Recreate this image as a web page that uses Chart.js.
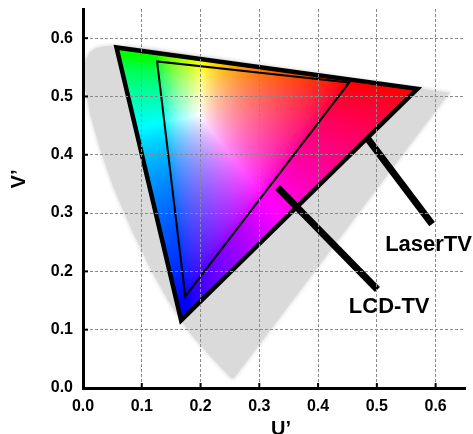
<!DOCTYPE html>
<html><head><meta charset="utf-8">
<script src="https://cdn.jsdelivr.net/npm/chart.js@4/dist/chart.umd.min.js"></script>
<style>html,body{margin:0;padding:0;background:#fff}</style>
</head><body>
<canvas id="c" width="473" height="434"></canvas>
<script>
// CIE 1976 spectral locus (u', v'), 380 nm -> 700 nm
const locusU = [0.2568,0.2522,0.2461,0.2347,0.2161,0.1877,0.1690,0.1441,0.1147,0.0828,0.0521,0.0282,0.0119,0.0035,0.0014,0.0046,0.0123,0.0231,0.0360,0.0501,0.0792,0.1127,0.1531,0.2026,0.2623,0.3315,0.4035,0.5203,0.5830,0.6234];
const locusV = [0.0165,0.0169,0.0226,0.0350,0.0549,0.0871,0.1119,0.1510,0.2044,0.2708,0.3427,0.4117,0.4698,0.5131,0.5432,0.5638,0.5770,0.5837,0.5861,0.5868,0.5856,0.5821,0.5766,0.5694,0.5604,0.5501,0.5393,0.5219,0.5125,0.5065];
// Primaries: green, red, blue
const laserU = [0.057, 0.569, 0.167];
const laserV = [0.584, 0.513, 0.116];
const lcdU = [0.126, 0.453, 0.174];
const lcdV = [0.560, 0.524, 0.157];
// Pointer lines
const laserPointerU = [0.484, 0.594];
const laserPointerV = [0.428, 0.281];
const lcdPointerU = [0.331, 0.501];
const lcdPointerV = [0.344, 0.169];
// Labels
const labelText = ['LaserTV', 'LCD-TV'];
const labelU = [0.588, 0.521];
const labelV = [0.246, 0.139];
const tickValues = [0.0, 0.1, 0.2, 0.3, 0.4, 0.5, 0.6];
const xTitle = 'U\u2019';
const yTitle = 'V\u2019';

const toPts = (us, vs) => us.map((u, i) => ({x: u, y: vs[i]}));
const closedPts = (us, vs) => { const p = toPts(us, vs); return p.concat([p[0]]); };
const closedJoin = (us, vs) => { const p = toPts(us, vs); return p.concat([p[0], p[1]]); };

function uvToRgb(u, v) {
  const d = 6 * u - 16 * v + 12;
  const x = 9 * u / d, y = 4 * v / d;
  const X = x / y, Y = 1, Z = (1 - x - y) / y;
  let r = 3.2406 * X - 1.5372 * Y - 0.4986 * Z;
  let g = -0.9689 * X + 1.8758 * Y + 0.0415 * Z;
  let b = 0.0557 * X - 0.2040 * Y + 1.0570 * Z;
  r = Math.max(r, 0); g = Math.max(g, 0); b = Math.max(b, 0);
  const m = Math.max(r, g, b) || 1;
  const sat = c => Math.pow(c, 1.3);
  const gam = c => c <= 0.0031308 ? 12.92 * c : 1.055 * Math.pow(c, 1 / 2.4) - 0.055;
  return [gam(sat(r / m)) * 255, gam(sat(g / m)) * 255, gam(sat(b / m)) * 255];
}

const FONT = '"Liberation Sans", Arial, sans-serif';
const LASER_IDX = 3, LOCUS_IDX = 4;

const chartPlugin = {
  id: 'cie',
  beforeDatasetDraw(chart, args) {
    const ctx = chart.ctx;
    if (args.index === LOCUS_IDX) { ctx.filter = 'blur(1.5px)'; }
    if (args.index === LASER_IDX) {
      const xs = chart.scales.x, ys = chart.scales.y;
      const px = laserU.map(u => xs.getPixelForValue(u));
      const py = laserV.map(v => ys.getPixelForValue(v));
      const x0 = Math.floor(Math.min(...px)) - 2, x1 = Math.ceil(Math.max(...px)) + 2;
      const y0 = Math.floor(Math.min(...py)) - 2, y1 = Math.ceil(Math.max(...py)) + 2;
      const w = x1 - x0, h = y1 - y0;
      const off = document.createElement('canvas');
      off.width = w; off.height = h;
      const octx = off.getContext('2d');
      const img = octx.createImageData(w, h);
      for (let j = 0; j < h; j++) {
        const v = ys.getValueForPixel(y0 + j + 0.5);
        for (let i = 0; i < w; i++) {
          const u = xs.getValueForPixel(x0 + i + 0.5);
          const c = uvToRgb(u, v);
          const k = (j * w + i) * 4;
          img.data[k] = c[0]; img.data[k + 1] = c[1]; img.data[k + 2] = c[2]; img.data[k + 3] = 255;
        }
      }
      octx.putImageData(img, 0, 0);
      ctx.save();
      ctx.beginPath();
      ctx.moveTo(px[0], py[0]); ctx.lineTo(px[1], py[1]); ctx.lineTo(px[2], py[2]); ctx.closePath();
      ctx.clip();
      ctx.drawImage(off, x0, y0);
      ctx.restore();
    }
  },
  afterDatasetDraw(chart, args) {
    if (args.index === LOCUS_IDX) { chart.ctx.filter = 'none'; }
  },
  afterDraw(chart) {
    const ctx = chart.ctx;
    const xs = chart.scales.x, ys = chart.scales.y;
    const ca = chart.chartArea;
    ctx.save();
    ctx.filter = 'none';
    // inner tick marks
    ctx.strokeStyle = '#000'; ctx.lineWidth = 2;
    tickValues.forEach(t => {
      if (t === 0) return;
      const x = xs.getPixelForValue(t);
      ctx.beginPath(); ctx.moveTo(x, ca.bottom); ctx.lineTo(x, ca.bottom - 5); ctx.stroke();
      const y = ys.getPixelForValue(t);
      ctx.beginPath(); ctx.moveTo(ca.left, y); ctx.lineTo(ca.left + 5, y); ctx.stroke();
    });
    // labels
    ctx.fillStyle = '#000';
    ctx.font = 'bold 22px ' + FONT;
    ctx.textAlign = 'center'; ctx.textBaseline = 'middle';
    labelText.forEach((t, i) => {
      ctx.fillText(t, xs.getPixelForValue(labelU[i]), ys.getPixelForValue(labelV[i]));
    });
    // axis titles
    ctx.font = 'bold 20px ' + FONT;
    ctx.textBaseline = 'alphabetic';
    ctx.fillText(xTitle, 281, 435);
    ctx.save();
    ctx.translate(25, 179);
    ctx.rotate(-Math.PI / 2);
    ctx.fillText(yTitle, 0, 0);
    ctx.restore();
    ctx.restore();
  }
};

const tickFont = {family: FONT, size: 16, weight: 'bold'};

new Chart(document.getElementById('c'), {
  type: 'line',
  data: {
    datasets: [
      {label: 'LaserTV pointer', data: toPts(laserPointerU, laserPointerV), borderColor: '#000', borderWidth: 7, borderCapStyle: 'butt', order: 0},
      {label: 'LCD-TV pointer', data: toPts(lcdPointerU, lcdPointerV), borderColor: '#000', borderWidth: 7, borderCapStyle: 'butt', order: 0},
      {label: 'LCD-TV', data: closedJoin(lcdU, lcdV), borderColor: '#000', borderWidth: 2, borderJoinStyle: 'miter', order: 1},
      {label: 'LaserTV', data: closedJoin(laserU, laserV), borderColor: '#000', borderWidth: 4.5, borderJoinStyle: 'miter', order: 2},
      {label: 'Spectral locus', data: closedPts(locusU, locusV), fill: 'shape', backgroundColor: '#dadada', borderColor: '#dcdcdc', borderWidth: 2, order: 3}
    ]
  },
  options: {
    responsive: false,
    animation: false,
    devicePixelRatio: 1,
    layout: {padding: {top: 9, right: 8, left: 0, bottom: 0}},
    elements: {point: {radius: 0, hoverRadius: 0}, line: {tension: 0}},
    plugins: {legend: {display: false}, tooltip: {enabled: false}},
    scales: {
      x: {
        type: 'linear', min: 0, max: 0.65,
        afterBuildTicks: s => { s.ticks = tickValues.map(v => ({value: v})); },
        afterFit: s => { s.height = 46; s.paddingLeft = 0; s.paddingRight = 0; s.paddingTop = 0; s.paddingBottom = 0; },
        ticks: {callback: v => Number(v).toFixed(1), font: tickFont, color: '#000', padding: 9, maxRotation: 0, autoSkip: false},
        grid: {color: '#8a8a8a', lineWidth: 1, drawTicks: false, z: 1},
        border: {color: '#000', width: 3, dash: [3, 2], z: 2}
      },
      y: {
        type: 'linear', min: 0, max: 0.65,
        afterBuildTicks: s => { s.ticks = tickValues.map(v => ({value: v})); },
        afterFit: s => { s.width = 83; s.paddingLeft = 0; s.paddingRight = 0; s.paddingTop = 0; s.paddingBottom = 0; },
        ticks: {callback: v => Number(v).toFixed(1), font: tickFont, color: '#000', padding: 10, autoSkip: false},
        grid: {color: '#8a8a8a', lineWidth: 1, drawTicks: false, z: 1},
        border: {color: '#000', width: 3, dash: [3, 2], z: 2}
      }
    }
  },
  plugins: [chartPlugin]
});
</script>
</body></html>
